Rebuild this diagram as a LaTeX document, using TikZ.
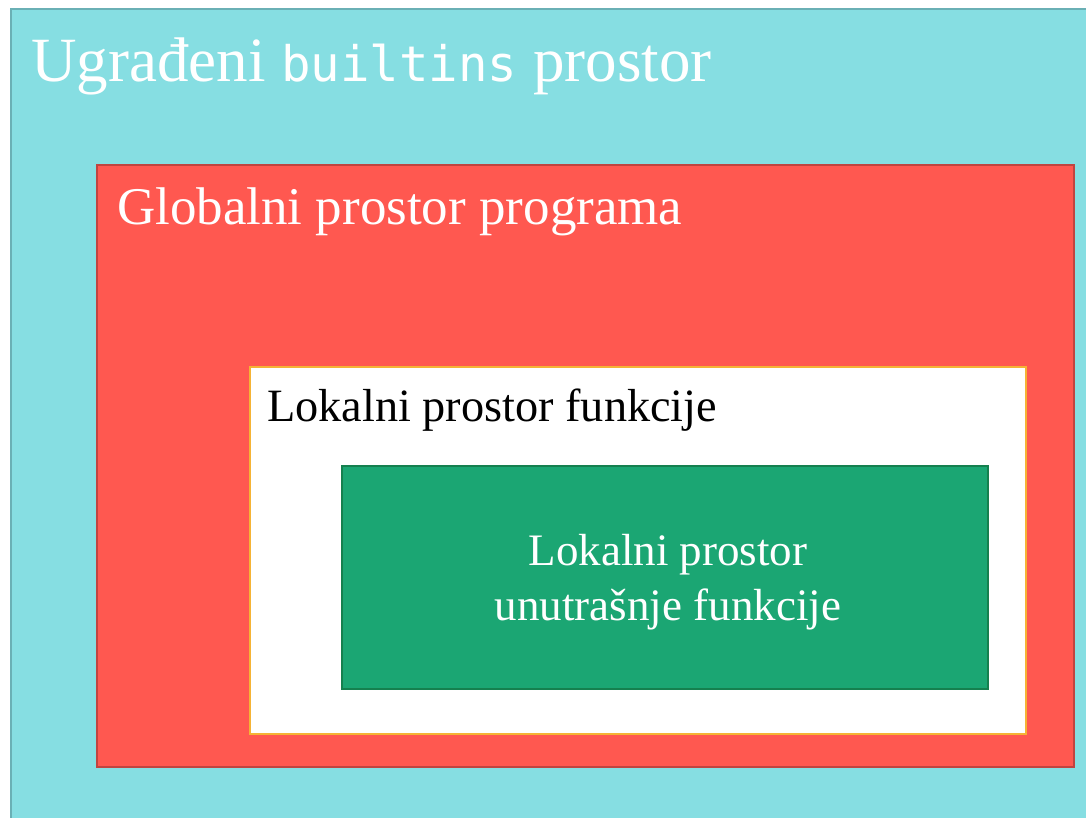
\documentclass[tikz,border=0pt]{standalone}
\usepackage{fontspec}
\setmainfont{Liberation Serif}
\setmonofont{DejaVu Sans Mono}
\definecolor{cyanfill}{HTML}{86DEE2}
\definecolor{cyanline}{HTML}{6AB0B5}
\definecolor{redfill}{HTML}{FF5850}
\definecolor{redline}{HTML}{C04440}
\definecolor{orangeline}{HTML}{F5B335}
\definecolor{greenfill}{HTML}{1BA673}
\definecolor{greenline}{HTML}{15804F}
\tikzset{
  area/.style={line width=2.5pt},
  label/.style={inner sep=0pt, text=white},
}
\begin{document}
\begin{tikzpicture}[x=1pt,y=-1pt]
  \useasboundingbox (0,0) rectangle (1086,818);
  \clip (0,0) rectangle (1086,818);
  % nested scopes
  \draw[area, draw=cyanline, fill=cyanfill] (11,9) rectangle (1100,830);
  \draw[area, draw=redline, fill=redfill] (97,165) rectangle (1074,767);
  \draw[area, draw=orangeline, fill=white] (250,367) rectangle (1026,734);
  \draw[area, draw=greenline, fill=greenfill] (342,466) rectangle (988,689);
  % labels
  \node[label, anchor=base west, font=\fontsize{63}{75}\selectfont] (builtins) at (31,82)
    {Ugrađeni {\ttfamily\fontsize{49}{58}\selectfont builtins} prostor};
  \node[label, anchor=base west, font=\fontsize{53}{63}\selectfont] (global) at (117,225)
    {Globalni prostor programa};
  \node[label, anchor=base west, text=black, font=\fontsize{46.3}{55}\selectfont] (local) at (267,421)
    {Lokalni prostor funkcije};
  \node[label, anchor=base, font=\fontsize{45}{55}\selectfont, align=center] (inner) at (668,620)
    {Lokalni prostor\\unutrašnje funkcije};
\end{tikzpicture}
\end{document}
